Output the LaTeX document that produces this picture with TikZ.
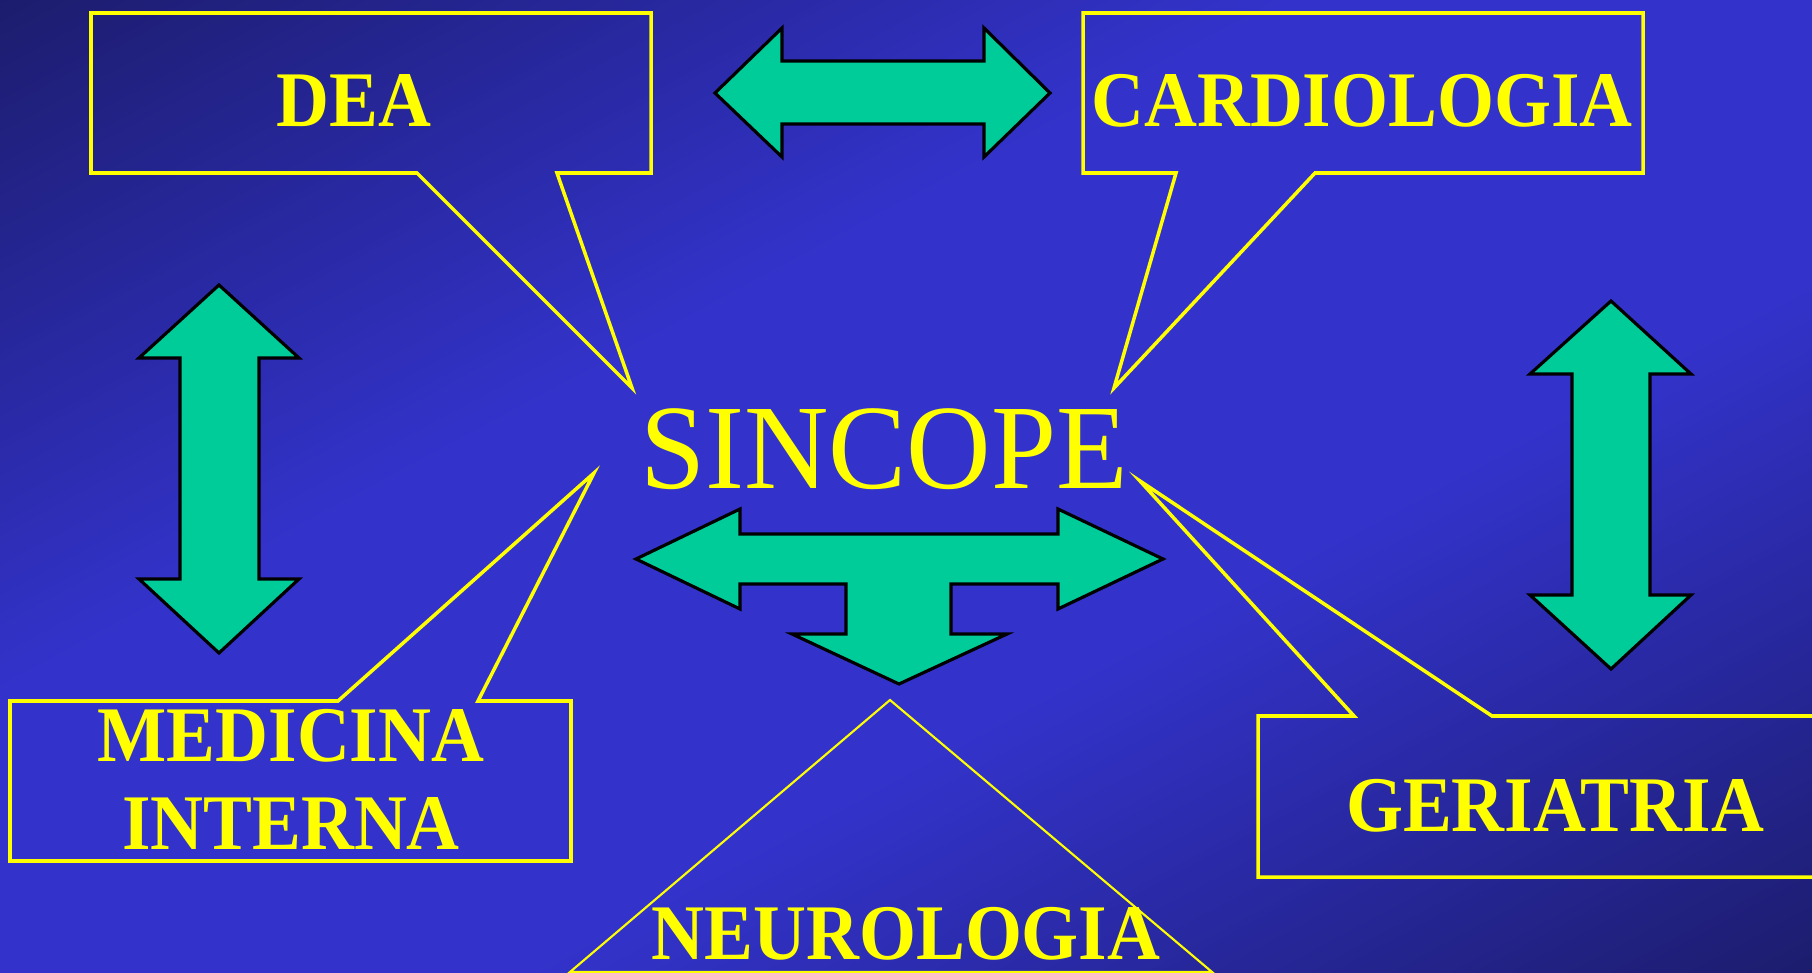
\documentclass[tikz,border=0pt]{standalone}
\usepackage{fontspec}
\usepackage{xcolor}
\usepackage{tikz}
\usetikzlibrary{positioning}

\newfontfamily\wardfont[FakeStretch=0.93]{Liberation Serif}
\newfontfamily\mainfont[FakeStretch=0.97]{Liberation Serif}

\definecolor{bgdark}{HTML}{1C1C6C}
\definecolor{bgmid}{HTML}{2828A0}
\definecolor{bgblue}{HTML}{3333CC}
\definecolor{arrowgreen}{HTML}{00CC99}
\definecolor{callyellow}{HTML}{FFFF00}

\pgfdeclareverticalshading{slidebg}{100bp}{color(0bp)=(bgdark); color(14bp)=(bgdark);
  color(28bp)=(bgmid); color(40bp)=(bgblue); color(60bp)=(bgblue); color(72bp)=(bgmid);
  color(86bp)=(bgdark); color(100bp)=(bgdark)}

\begin{document}
\begin{tikzpicture}[
  x=0.01cm, y=-0.01cm,
  bubble/.style={draw=callyellow, line width=1pt, line join=miter},
  thinbubble/.style={draw=callyellow, line width=0.6pt},
  blockarrow/.style={fill=arrowgreen, draw=black, line width=0.9pt, line join=miter},
  ward/.style={text=callyellow, inner sep=0pt, anchor=base,
    font=\wardfont\bfseries\fontsize{22.4}{25}\selectfont},
  mainword/.style={text=callyellow, inner sep=0pt, anchor=base,
    font=\mainfont\fontsize{34.3}{40}\selectfont}
]
% background
\clip (0,0) rectangle (1812,973);
\begin{scope}[transform canvas={xscale=1.812, yscale=0.973}]
  \shade[shading=slidebg, shading angle=45] (0,0) rectangle (1000,1000);
\end{scope}

% tips of the callouts
\coordinate (deatip) at (632,388);
\coordinate (cardiotip) at (1114,388);
\coordinate (meditip) at (594,473);
\coordinate (neurotip) at (890,700);
\coordinate (geritip) at (1140,481);

% callouts
\draw[bubble] (91,13) -- (651,13) -- (651,173) -- (557,173) -- (deatip)
  -- (417,173) -- (91,173) -- cycle;
\draw[bubble] (1083,13) -- (1643,13) -- (1643,173) -- (1315,173) -- (cardiotip)
  -- (1176,173) -- (1083,173) -- cycle;
\draw[bubble] (10,701) -- (338,701) -- (meditip) -- (478,701) -- (571,701)
  -- (571,861) -- (10,861) -- cycle;
\draw[bubble] (1258,716) -- (1354,716) -- (geritip) -- (1492,716) -- (1830,716)
  -- (1830,877) -- (1258,877) -- cycle;
\draw[thinbubble] (570,972) -- (neurotip) -- (1212,972) -- cycle;

% block arrows
\draw[blockarrow] (715,93) -- (782,28) -- (782,61) -- (984,61) -- (984,28)
  -- (1050,93) -- (984,157) -- (984,124) -- (782,124) -- (782,157) -- cycle;
\draw[blockarrow] (219,285) -- (299,358) -- (259,358) -- (259,579) -- (299,579)
  -- (219,653) -- (139,579) -- (180,579) -- (180,358) -- (139,358) -- cycle;
\draw[blockarrow] (1611,301) -- (1691,374) -- (1650,374) -- (1650,595) -- (1691,595)
  -- (1611,669) -- (1530,595) -- (1572,595) -- (1572,374) -- (1530,374) -- cycle;
\draw[blockarrow] (636,559) -- (740,509) -- (740,534) -- (1058,534) -- (1058,509)
  -- (1163,559) -- (1058,609) -- (1058,584) -- (951,584) -- (951,634) -- (1007,634)
  -- (899,684) -- (792,634) -- (846,634) -- (846,584) -- (740,584) -- (740,609) -- cycle;

% texts
\node[ward] (dea) at (354,127) {DEA};
\node[ward] (cardio) at (1362,127) {CARDIOLOGIA};
\node[mainword] (sincope) at (884,488) {SINCOPE};
\node[ward, align=center] (medicina) at (291,849) {MEDICINA\\INTERNA};
\node[ward] (neuro) at (906,959) {NEUROLOGIA};
\node[ward] (geri) at (1555,831) {GERIATRIA};
\end{tikzpicture}
\end{document}
